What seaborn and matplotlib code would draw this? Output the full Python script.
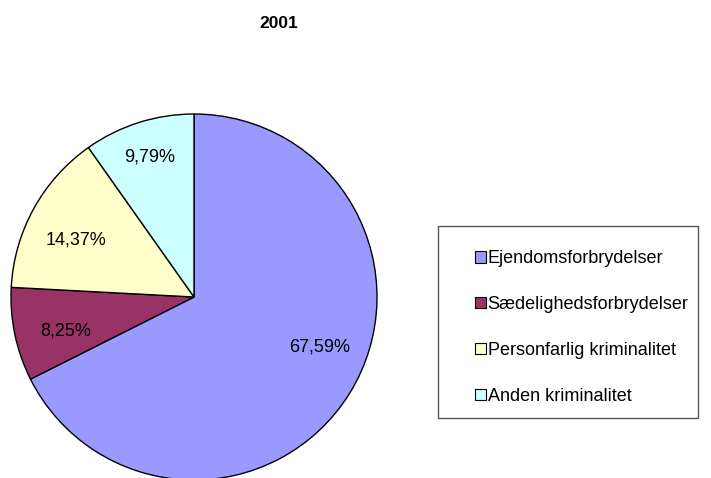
import matplotlib
matplotlib.use("Agg")
import matplotlib.pyplot as plt
import seaborn as sns
import numpy as np
from matplotlib.patches import Rectangle

sns.set_theme(style="white")
plt.rcParams['font.family'] = ['Liberation Sans', 'DejaVu Sans']
plt.rcParams['text.color'] = 'black'

title = "2001"
categories = ["Ejendomsforbrydelser", "Sædelighedsforbrydelser",
              "Personfarlig kriminalitet", "Anden kriminalitet"]
values = [67.59, 8.25, 14.37, 9.79]
colors = ["#9999FF", "#993366", "#FFFFCC", "#CCFFFF"]

# Excel-style label placement (angle in degrees, distance in radius units)
label_angle = [-21.6, -165.2, 154.2, 107.4]
label_dist = [0.741, 0.726, 0.714, 0.802]

W, H = 711, 478
fig = plt.figure(figsize=(W / 100, H / 100), dpi=100)
fig.patch.set_facecolor("white")

cx, cy, r = 194, 297, 183
ax = fig.add_axes([(cx - r) / W, (H - cy - r) / H, 2 * r / W, 2 * r / H])
wedges, texts, autotexts = ax.pie(
    values, colors=colors, startangle=90, counterclock=False,
    autopct=lambda p: f"{p:.2f}%".replace(".", ","), pctdistance=0.75,
    wedgeprops=dict(edgecolor="black", linewidth=1.0),
    textprops=dict(fontsize=13, color="black"))
for t, a, d in zip(autotexts, label_angle, label_dist):
    rad = np.deg2rad(a)
    t.set_position((d * np.cos(rad), d * np.sin(rad)))
for w in wedges:
    w.set_clip_on(False)
ax.set_xlim(-1, 1)
ax.set_ylim(-1, 1)
ax.set_aspect("equal")
ax.axis("off")

fig.text(279 / W, 1 - 24 / H, title, ha="center", va="center",
         fontsize=12.5, fontweight="bold", color="black")

# legend frame
fig.patches.append(Rectangle((438 / W, 1 - 418 / H), 260 / W, 192 / H,
                             transform=fig.transFigure, fill=False,
                             edgecolor="#555555", linewidth=1.0))
leg = fig.legend(wedges, categories, loc="center left",
                 bbox_to_anchor=(466 / W, 1 - 327.5 / H), frameon=False,
                 fontsize=13, handlelength=0.6, handleheight=0.6,
                 handletextpad=0.1, labelspacing=1.6, borderpad=0)
for h in leg.legend_handles:
    h.set_edgecolor("black")
    h.set_linewidth(0.8)
for t in leg.get_texts():
    t.set_color("black")

fig.savefig("out.png", dpi=100)
